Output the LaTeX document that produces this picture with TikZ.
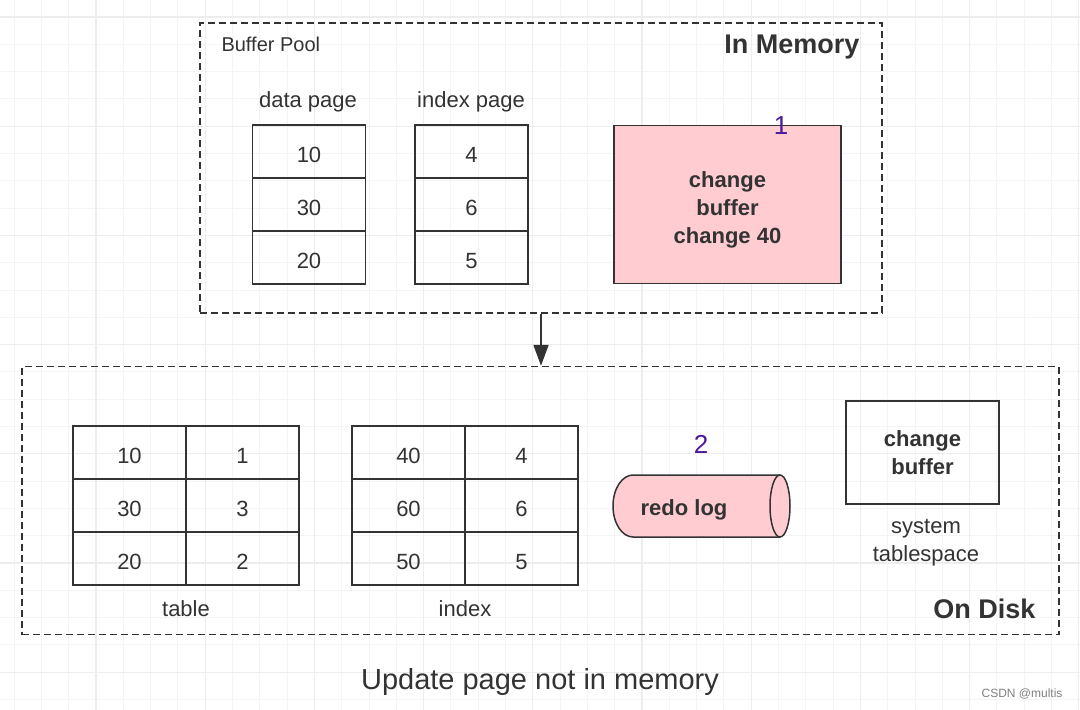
\documentclass[tikz,border=0pt]{standalone}
\usepackage{fontspec}
\setmainfont{Liberation Sans}
\usetikzlibrary{arrows.meta,positioning}
\definecolor{ink}{HTML}{333333}
\definecolor{redofill}{HTML}{FFCCD1}
\definecolor{markviolet}{HTML}{4A1A9C}
\definecolor{gridminor}{HTML}{F4F4F4}
\definecolor{gridmajor}{HTML}{EDEDED}
\tikzset{
  cell/.style={draw=ink,line width=1.5pt,minimum width=113pt,minimum height=53pt,inner sep=0pt,text=ink,font=\fontsize{22}{26}\selectfont,text height=21pt,text depth=0pt},
  area/.style={draw=ink,line width=1.5pt,dash pattern=on 7pt off 4pt,inner sep=0pt},
  lbl/.style={text=ink,font=\fontsize{22}{28}\selectfont,align=center},
  boldlbl/.style={text=ink,font=\fontsize{22}{28}\selectfont\bfseries,align=center},
  title/.style={text=ink,font=\fontsize{27}{30}\selectfont\bfseries},
  stepnum/.style={text=markviolet,font=\fontsize{26}{30}\selectfont},
  flow/.style={draw=ink,line width=2pt,-{Triangle[length=21pt,width=15pt]}}
}
\begin{document}
\begin{tikzpicture}[x=1pt,y=-1pt]
\useasboundingbox (0,0) rectangle (1080,710);
\fill[white] (0,0) rectangle (1080,710);
% grid
\begin{scope}
\clip (0,0) rectangle (1080,710);
\foreach \i in {0,...,40} {
  \draw[gridminor,line width=1pt] ({-13.2+27.3*\i},0) -- ({-13.2+27.3*\i},710);
  \draw[gridminor,line width=1pt] (0,{17+27.3*(\i-1)}) -- (1080,{17+27.3*(\i-1)});
}
\foreach \i in {0,...,10} {
  \draw[gridmajor,line width=1.3pt] ({-13.2+109.2*\i},0) -- ({-13.2+109.2*\i},710);
  \draw[gridmajor,line width=1.3pt] (0,{17+109.2*(\i-1)}) -- (1080,{17+109.2*(\i-1)});
}
\end{scope}

% in memory
\node[area,minimum width=682pt,minimum height=290pt] (mem) at (541,168) {};
\node[lbl,font=\fontsize{20}{24}\selectfont,anchor=west] (pool) at (218,44) {Buffer Pool};
\node[title,anchor=east] (memtitle) at (863,47) {In Memory};
\node[lbl] (dplabel) at (308,102) {data page};
\node[lbl] (iplabel) at (471,102) {index page};
\foreach \v [count=\r] in {10,30,20}
  \node[cell] (dp\r) at (309,{98.5+53*\r}) {\v};
\foreach \v [count=\r] in {4,6,5}
  \node[cell] (ip\r) at (471.5,{98.5+53*\r}) {\v};
\node[draw=ink,line width=1.5pt,fill=redofill,minimum width=227pt,minimum height=158pt] (cbmem) at (727.5,204.5) {};
\node[boldlbl] (cbmemtext) at (727.5,210) {change\\buffer\\change 40};
\node[stepnum] (num1) at (781,126) {1};

% on disk
\node[area,minimum width=1037pt,minimum height=268pt] (disk) at (540.5,500.5) {};
\draw[flow] (mem.south) -- (mem.south |- disk.north);
\node[title,anchor=east] (disktitle) at (1039,609) {On Disk};
\foreach \a/\b [count=\r] in {10/1,30/3,20/2} {
  \node[cell] (tl\r) at (129.5,{399.5+53*\r}) {\a};
  \node[cell] (tr\r) at (242.5,{399.5+53*\r}) {\b};
}
\foreach \a/\b [count=\r] in {40/4,60/6,50/5} {
  \node[cell] (il\r) at (408.5,{399.5+53*\r}) {\a};
  \node[cell] (ir\r) at (521.5,{399.5+53*\r}) {\b};
}
\node[lbl] (tablelabel) at (186,609) {table};
\node[lbl] (indexlabel) at (465,609) {index};

% redo log cylinder
\fill[redofill] (633,475) -- (780,475) -- (780,537) -- (633,537)
  .. controls (622,537) and (613,523.1) .. (613,506)
  .. controls (613,488.9) and (622,475) .. (633,475);
\draw[ink,line width=1.5pt] (780,475) -- (633,475)
  .. controls (622,475) and (613,488.9) .. (613,506)
  .. controls (613,523.1) and (622,537) .. (633,537) -- (780,537);
\draw[ink,line width=1.5pt,fill=redofill] (780,506) ellipse [x radius=10pt,y radius=31pt];
\node[boldlbl] (redo) at (684,510) {redo log};
\node[stepnum] (num2) at (701,444) {2};

\node[boldlbl,draw=ink,line width=1.5pt,minimum width=153pt,minimum height=103pt] (cbdisk) at (922.5,452.5) {change\\buffer};
\node[lbl] (systs) at (926,543) {system\\tablespace};

% caption
\node[text=ink,font=\fontsize{29}{32}\selectfont] (caption) at (540,682) {Update page not in memory};
\node[text=gray,font=\fontsize{12}{14}\selectfont,anchor=east] (wmark) at (1066,694) {CSDN @multis};
\end{tikzpicture}
\end{document}
